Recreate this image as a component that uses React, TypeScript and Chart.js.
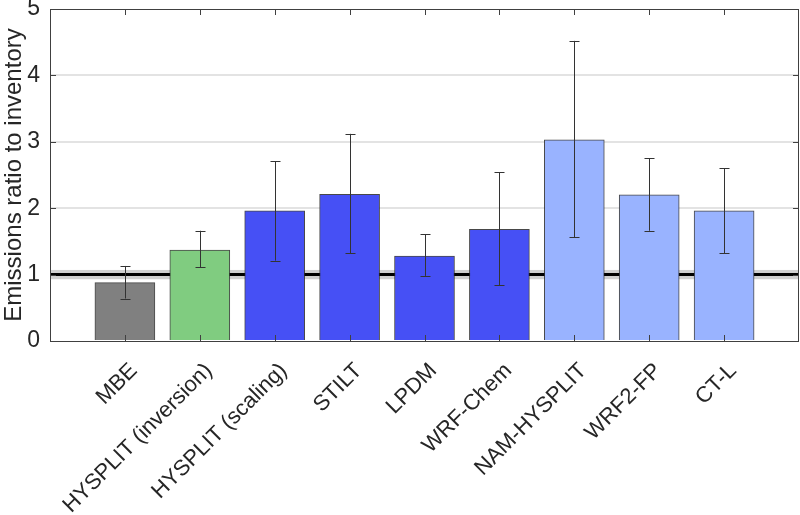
import React, { useEffect, useRef } from "react";
import { Chart, registerables } from "chart.js";

Chart.register(...registerables);

// Data
const categories = [
  "MBE",
  "HYSPLIT (inversion)",
  "HYSPLIT (scaling)",
  "STILT",
  "LPDM",
  "WRF-Chem",
  "NAM-HYSPLIT",
  "WRF2-FP",
  "CT-L",
];
const ratios = [0.88, 1.37, 1.96, 2.21, 1.28, 1.68, 3.03, 2.2, 1.96];
const errLow = [0.64, 1.11, 1.21, 1.32, 0.98, 0.84, 1.56, 1.66, 1.32];
const errHigh = [1.13, 1.66, 2.71, 3.12, 1.61, 2.54, 4.52, 2.75, 2.6];
const yTicks = [0, 1, 2, 3, 4, 5];
const referenceValue = 1;
const referenceBand = [0.93, 1.07];

// Styles
const barColors = [
  "#808080",
  "#80cc80",
  "#4650f5",
  "#4650f5",
  "#4650f5",
  "#4650f5",
  "#99b3ff",
  "#99b3ff",
  "#99b3ff",
];

const FONT = "'Liberation Sans', Arial, Helvetica, sans-serif";

export default function App() {
  const ref = useRef<HTMLCanvasElement | null>(null);

  useEffect(() => {
    const canvas = ref.current;
    if (!canvas) return;
    const labels = ["", ...categories, ""];
    const data = [null, ...ratios, null];
    const colors = ["#000", ...barColors, "#000"];

    const decorPlugin = {
      id: "decor",
      beforeDatasetsDraw(chart: any) {
        const { ctx, chartArea, scales } = chart;
        const y = scales.y;
        ctx.save();
        const b0 = y.getPixelForValue(referenceBand[0]);
        const b1 = y.getPixelForValue(referenceBand[1]);
        ctx.fillStyle = "rgba(150,150,150,0.45)";
        ctx.fillRect(chartArea.left, b1, chartArea.right - chartArea.left, b0 - b1);
        const py = y.getPixelForValue(referenceValue);
        ctx.strokeStyle = "#000";
        ctx.lineWidth = 3;
        ctx.beginPath();
        ctx.moveTo(chartArea.left, py);
        ctx.lineTo(chartArea.right, py);
        ctx.stroke();
        ctx.restore();
      },
      afterDatasetsDraw(chart: any) {
        const { ctx, chartArea, scales } = chart;
        const x = scales.x;
        const y = scales.y;
        ctx.save();
        // error bars
        ctx.strokeStyle = "#333";
        ctx.lineWidth = 1;
        categories.forEach((_, i) => {
          const px = Math.round(x.getPixelForValue(i + 1)) + 0.5;
          const lo = y.getPixelForValue(errLow[i]);
          const hi = y.getPixelForValue(errHigh[i]);
          ctx.beginPath();
          ctx.moveTo(px, lo);
          ctx.lineTo(px, hi);
          ctx.moveTo(px - 5, Math.round(lo) + 0.5);
          ctx.lineTo(px + 5, Math.round(lo) + 0.5);
          ctx.moveTo(px - 5, Math.round(hi) + 0.5);
          ctx.lineTo(px + 5, Math.round(hi) + 0.5);
          ctx.stroke();
        });
        // tick marks
        ctx.strokeStyle = "#404040";
        categories.forEach((_, i) => {
          const px = Math.round(x.getPixelForValue(i + 1)) + 0.5;
          ctx.beginPath();
          ctx.moveTo(px, chartArea.bottom);
          ctx.lineTo(px, chartArea.bottom - 6);
          ctx.moveTo(px, chartArea.top);
          ctx.lineTo(px, chartArea.top + 6);
          ctx.stroke();
        });
        yTicks.forEach((v) => {
          const py = Math.round(y.getPixelForValue(v)) + 0.5;
          ctx.beginPath();
          ctx.moveTo(chartArea.left, py);
          ctx.lineTo(chartArea.left + 6, py);
          ctx.moveTo(chartArea.right, py);
          ctx.lineTo(chartArea.right - 6, py);
          ctx.stroke();
        });
        // box
        ctx.strokeStyle = "#404040";
        ctx.lineWidth = 1;
        ctx.strokeRect(
          Math.round(chartArea.left) + 0.5,
          Math.round(chartArea.top) + 0.5,
          Math.round(chartArea.right - chartArea.left) - 1,
          Math.round(chartArea.bottom - chartArea.top)
        );
        ctx.restore();
      },
    };

    const chart = new Chart(canvas, {
      type: "bar",
      data: {
        labels,
        datasets: [
          {
            data,
            backgroundColor: colors,
            borderColor: "rgba(40,40,40,0.85)",
            borderWidth: 1,
            barThickness: 60,
          },
        ],
      },
      options: {
        responsive: false,
        animation: false,
        plugins: {
          legend: { display: false },
          tooltip: { enabled: false },
        },
        layout: { padding: { top: 9, right: 1, left: 0, bottom: 0 } },
        scales: {
          x: {
            offset: false,
            grid: { display: false, drawTicks: false },
            border: { display: false },
            ticks: {
              autoSkip: false,
              maxRotation: 45,
              minRotation: 45,
              padding: 17,
              labelOffset: 9,
              color: "#262626",
              font: { family: FONT, size: 22 },
            },
            afterFit(scale: any) {
              scale.height = 174;
              scale.paddingLeft = 0;
              scale.paddingRight = 0;
            },
          },
          y: {
            min: 0,
            max: 5,
            grid: {
              drawTicks: false,
              color: (c: any) =>
                c.tick && (c.tick.value === 0 || c.tick.value === 5) ? "rgba(0,0,0,0)" : "#e3e3e3",
              lineWidth: 2,
            },
            border: { display: false },
            ticks: {
              stepSize: 1,
              padding: 10,
              color: "#262626",
              font: { family: FONT, size: 23 },
            },
            title: {
              display: true,
              text: "Emissions ratio to inventory",
              color: "#262626",
              font: { family: FONT, size: 24 },
              padding: { top: 0, bottom: 0 },
            },
            afterFit(scale: any) {
              scale.width = 50;
              scale.paddingTop = 0;
              scale.paddingBottom = 0;
            },
          },
        },
      },
      plugins: [decorPlugin],
    });
    return () => chart.destroy();
  }, []);

  return (
    <div style={{ position: "fixed", left: 0, top: 0, width: 800, height: 515, background: "#fff" }}>
      <canvas ref={ref} width={800} height={515} />
    </div>
  );
}
